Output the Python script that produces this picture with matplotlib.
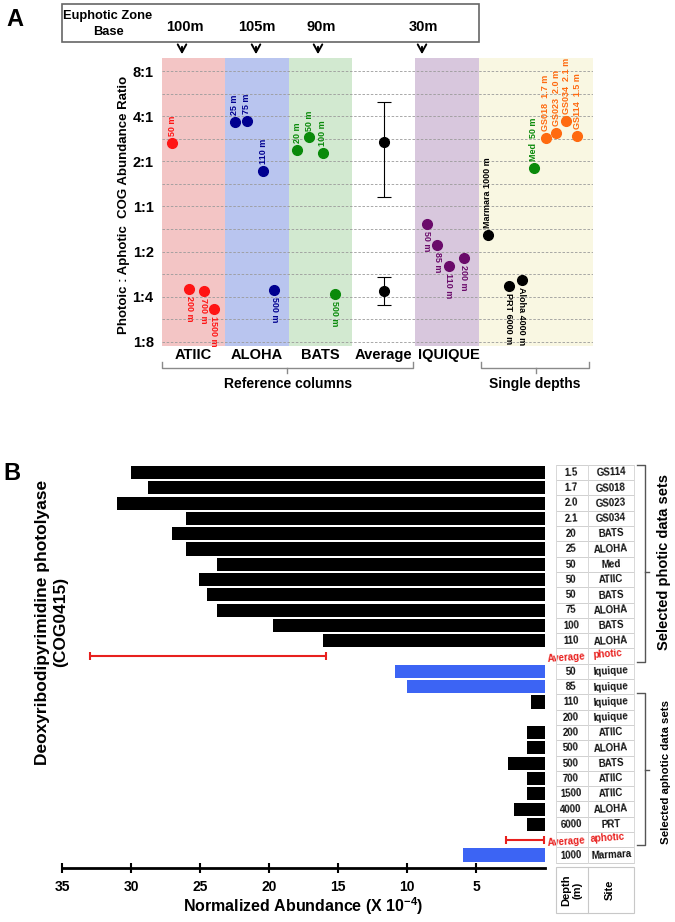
import numpy as np
import matplotlib
matplotlib.use('Agg')
import matplotlib.pyplot as plt
from matplotlib.lines import Line2D
from matplotlib.patches import Rectangle, FancyArrowPatch
import matplotlib.transforms as mtrans

plt.rcParams['font.family'] = ['Liberation Sans', 'DejaVu Sans']
plt.rcParams['font.weight'] = 'bold'
plt.rcParams['mathtext.fontset'] = 'custom'
plt.rcParams['mathtext.rm'] = 'Liberation Sans'
plt.rcParams['mathtext.bf'] = 'Liberation Sans:bold'

W, H = 675, 922
fig = plt.figure(figsize=(W / 100, H / 100), dpi=100)


def fx(px):
    return px / W


def fy(py):
    return 1 - py / H

# ---------------- Panel A data ----------------
ratio_ticks = [-3, -2, -1, 0, 1, 2, 3]
ratio_labels = ['1:8', '1:4', '1:2', '1:1', '2:1', '4:1', '8:1']

column_names = ['ATIIC', 'ALOHA', 'BATS', 'Average', 'IQUIQUE']
column_bg = ['#f3c5c5', '#b9c5ef', '#d2e9d0', '#ffffff', '#d8c7dd', '#f9f7e2']
zone_base = ['100m', '105m', '90m', '30m']

# (label, log2 ratio, slot, label side)
atiic_pts = [('50 m', 1.41, 0.16, 'up'), ('200 m', -1.84, 0.43, 'down'),
             ('700 m', -1.87, 0.66, 'down'), ('1500 m', -2.27, 0.82, 'down')]
aloha_pts = [('25 m', 1.88, 1.15, 'up'), ('75 m', 1.90, 1.34, 'up'),
             ('110 m', 0.79, 1.60, 'up'), ('500 m', -1.85, 1.77, 'down')]
bats_pts = [('20 m', 1.26, 2.14, 'up'), ('50 m', 1.53, 2.33, 'up'),
            ('100 m', 1.19, 2.54, 'up'), ('500 m', -1.94, 2.73, 'down')]
iquique_pts = [('50 m', -0.38, 4.18, 'down'), ('85 m', -0.85, 4.35, 'down'),
               ('110 m', -1.32, 4.53, 'down'), ('200 m', -1.15, 4.77, 'down')]
single_black = [('Marmara 1000 m', -0.64, 5.15, 'up'), ('PRT 6000 m', -1.76, 5.48, 'down'),
                ('Aloha 4000 m', -1.64, 5.68, 'down')]
single_med = [('Med  50 m', 0.86, 5.87, 'up')]
single_gs = [('GS018  1.7 m', 1.51, 6.06, 'up'), ('GS023  2.0 m', 1.64, 6.23, 'up'),
             ('GS034  2.1 m', 1.89, 6.39, 'up'), ('GS114  1.5 m', 1.57, 6.56, 'up')]
avg_photic = (1.43, 0.21, 2.32)
avg_aphotic = (-1.87, -2.19, -1.57)

# ---------------- Panel B data ----------------
depths = ['1.5', '1.7', '2.0', '2.1', '20', '25', '50', '50', '50', '75', '100', '110', '',
          '50', '85', '110', '200', '200', '500', '500', '700', '1500', '4000', '6000', '', '1000']
sites = ['GS114', 'GS018', 'GS023', 'GS034', 'BATS', 'ALOHA', 'Med', 'ATIIC', 'BATS', 'ALOHA',
         'BATS', 'ALOHA', '', 'Iquique', 'Iquique', 'Iquique', 'Iquique', 'ATIIC', 'ALOHA',
         'BATS', 'ATIIC', 'ATIIC', 'ALOHA', 'PRT', '', 'Marmara']
abundance = [30.0, 28.8, 31.0, 26.0, 27.0, 26.0, 23.8, 25.1, 24.5, 23.8, 19.7, 16.1, np.nan,
             10.9, 10.0, 1.0, 0.0, 1.28, 1.28, 2.7, 1.27, 1.27, 2.28, 1.27, np.nan, 5.95]
bar_kind = ['k'] * 12 + [''] + ['b', 'b', 'k', 'k'] + ['k'] * 7 + [''] + ['b']
avg_rows = {12: ('photic', 15.9, 33.0), 24: ('aphotic', 0.1, 2.8)}
x_ticks = [35, 30, 25, 20, 15, 10, 5]

# ================= Panel A =================
axA = fig.add_axes([fx(162), fy(346), (593 - 162) / W, (346 - 58) / H])
unit = 63.3
xmax = (593 - 162) / unit
axA.set_xlim(0, xmax)
axA.set_ylim((206.5 - 346) / 45.1, (206.5 - 58) / 45.1)
bounds = [0, 1, 2, 3, 4, 5, xmax]
for i in range(6):
    axA.axvspan(bounds[i], bounds[i + 1], color=column_bg[i], lw=0, zorder=0)
for v in np.arange(-3, 3.01, 0.5):
    axA.axhline(v, color='#9a9a9a', lw=0.6, ls=(0, (3, 2)), zorder=1)
axA.set_yticks(ratio_ticks)
axA.set_yticklabels(ratio_labels, fontsize=10.5, fontweight='bold')
axA.tick_params(axis='y', length=0, pad=6)
axA.set_xticks([])
for s in axA.spines.values():
    s.set_visible(False)


def plot_pts(pts, color):
    for lab, v, x, side in pts:
        axA.plot(x, v, 'o', color=color, ms=7, zorder=3)
        if side == 'up':
            axA.annotate(lab, (x, v), xytext=(0, 5), textcoords='offset points', rotation=90,
                         ha='center', va='bottom', fontsize=6.5, color=color, fontweight='bold')
        else:
            axA.annotate(lab, (x, v), xytext=(0, -5), textcoords='offset points', rotation=-90,
                         ha='center', va='top', fontsize=6.5, color=color, fontweight='bold')


plot_pts(atiic_pts, '#ff1414')
plot_pts(aloha_pts, '#000090')
plot_pts(bats_pts, '#0a8a0a')
plot_pts(iquique_pts, '#6a0a6a')
plot_pts(single_black, '#000000')
plot_pts(single_med, '#0a8a0a')
plot_pts(single_gs, '#ff6a10')
for m, lo, hi in (avg_photic, avg_aphotic):
    axA.errorbar(3.5, m, yerr=[[m - lo], [hi - m]], fmt='o', color='k', ms=7,
                 capsize=5, elinewidth=0.8, capthick=0.8, zorder=3)

# column labels
for i, name in enumerate(column_names):
    fig.text(fx(162 + (i + 0.5) * unit + (2 if i == 4 else 0)), fy(355), name, ha='center',
             va='center', fontsize=10.5, fontweight='bold')

# header box
fig.add_artist(Rectangle((fx(62), fy(42)), (479 - 62) / W, (42 - 4) / H, transform=fig.transFigure,
                         facecolor='white', edgecolor='#666666', lw=1.2))
fig.text(fx(108), fy(16), 'Euphotic Zone', ha='center', va='center', fontsize=9.3, fontweight='bold')
fig.text(fx(108), fy(32), 'Base', ha='center', va='center', fontsize=9.3, fontweight='bold')
for lab, tx, ax_x in zip(zone_base, [185, 257, 321, 423], [182, 256, 318, 422]):
    fig.text(fx(tx), fy(27), lab, ha='center', va='center', fontsize=10.5, fontweight='bold')
    fig.add_artist(FancyArrowPatch((fx(ax_x), fy(44)), (fx(ax_x), fy(57)), transform=fig.transFigure,
                                   arrowstyle='->,head_length=0.4,head_width=0.22', mutation_scale=14,
                                   lw=1.4, color='k'))

fig.text(fx(15), fy(20), 'A', ha='center', va='center', fontsize=17, fontweight='bold')
fig.text(fx(124), fy(205), 'Photoic : Aphotic  COG Abundance Ratio', rotation=90, ha='center',
         va='center', fontsize=9.5, fontweight='bold')


def hbrace(x0, x1, ytop, ybot, xm, tip):
    fig.add_artist(Line2D([fx(x0), fx(x0), fx(x1), fx(x1)], [fy(ytop), fy(ybot), fy(ybot), fy(ytop)],
                          transform=fig.transFigure, color='#8a8a8a', lw=1))
    fig.add_artist(Line2D([fx(xm), fx(xm)], [fy(ybot), fy(ybot + tip)], transform=fig.transFigure,
                          color='#8a8a8a', lw=1))


hbrace(162, 413, 362, 368, 287, 5)
hbrace(481, 589, 362, 368, 536, 5)
fig.text(fx(288), fy(384), 'Reference columns', ha='center', va='center', fontsize=10, fontweight='bold')
fig.text(fx(535), fy(384), 'Single depths', ha='center', va='center', fontsize=10, fontweight='bold')

# ================= Panel B =================
row_pitch = 15.3
row0 = 472.5
axB_top, axB_bot = 462, 868
axB = fig.add_axes([fx(62), fy(axB_bot), (545 - 62) / W, (axB_bot - axB_top) / H])
n = len(depths)
rows = np.arange(n)
axB.set_xlim(35, 0)
axB.set_ylim((axB_bot - row0) / row_pitch, (axB_top - row0) / row_pitch)
cols = {'k': '#000000', 'b': '#3c64f4', '': 'none'}
vals = np.nan_to_num(np.array(abundance))
axB.barh(rows, vals, height=0.86, color=[cols[k] for k in bar_kind], edgecolor='none', zorder=2)
for r, (_, lo, hi) in avg_rows.items():
    axB.errorbar((lo + hi) / 2, r, xerr=(hi - lo) / 2, fmt='none', ecolor='#e8201e', elinewidth=1.5,
                 capsize=3, capthick=1.5)
axB.set_xticks(x_ticks)
axB.set_xticklabels([str(t) for t in x_ticks], fontsize=10, fontweight='bold')
axB.tick_params(axis='x', direction='inout', length=7, width=1.5, pad=5)
axB.set_yticks([])
for k in ['top', 'left', 'right']:
    axB.spines[k].set_visible(False)
axB.spines['bottom'].set_linewidth(2)
axB.set_xlabel(r'Normalized Abundance (X 10$^{\mathbf{-4}}$)', fontsize=11.5, fontweight='bold',
               labelpad=1)

fig.text(fx(12), fy(473), 'B', ha='center', va='center', fontsize=17, fontweight='bold')
fig.text(fx(52), fy(622), 'Deoxyribodipyrimidine photolyase\n(COG0415)', rotation=90, ha='center',
         va='center', fontsize=12.5, fontweight='bold', linespacing=1.25, multialignment='center')

# table
blend = mtrans.blended_transform_factory(fig.transFigure, axB.transData)
tl, tm, tr = fx(556), fx(588), fx(634)
for r in range(n + 1):
    fig.add_artist(Line2D([tl, tr], [r - 0.5, r - 0.5], transform=blend, color='#d0d0d0', lw=0.7))
for xx in (tl, tm, tr):
    fig.add_artist(Line2D([xx, xx], [-0.5, n - 0.5], transform=blend, color='#d8d8d8', lw=0.7))
for r in range(n):
    if r in avg_rows:
        axB.text(fx(566), r + 0.1, 'Average', transform=blend, ha='center', va='center', fontsize=7,
                 color='#e8201e', fontweight='bold', rotation=4, clip_on=False)
        axB.text(fx(608), r - 0.15, avg_rows[r][0], transform=blend, ha='center', va='center',
                 fontsize=7, color='#e8201e', fontweight='bold', rotation=4, clip_on=False)
    else:
        axB.text(fx(571), r, depths[r], transform=blend, ha='center', va='center', fontsize=7,
                 fontweight='bold', rotation=3, clip_on=False, color='#111111')
        axB.text(fx(611), r, sites[r], transform=blend, ha='center', va='center', fontsize=7,
                 fontweight='bold', rotation=3, clip_on=False, color='#111111')
# header cell
fig.add_artist(Rectangle((fx(556), fy(913)), (634 - 556) / W, (913 - 867) / H, transform=fig.transFigure,
                         facecolor='white', edgecolor='#c8c8c8', lw=0.8))
fig.add_artist(Line2D([fx(588), fx(588)], [fy(867), fy(913)], transform=fig.transFigure,
                      color='#c8c8c8', lw=0.8))
fig.text(fx(572), fy(890), 'Depth\n(m)', rotation=90, ha='center', va='center', fontsize=8,
         fontweight='bold', multialignment='center', linespacing=1.1)
fig.text(fx(610), fy(890), 'Site', rotation=90, ha='center', va='center', fontsize=8, fontweight='bold')


def vbrace(y0, y1, xl, xr, ym, tip):
    fig.add_artist(Line2D([fx(xl), fx(xr), fx(xr), fx(xl)], [fy(y0), fy(y0), fy(y1), fy(y1)],
                          transform=fig.transFigure, color='#555555', lw=1))
    fig.add_artist(Line2D([fx(xr), fx(xr + tip)], [fy(ym), fy(ym)], transform=fig.transFigure,
                          color='#555555', lw=1))


vbrace(465, 662, 637, 645, 572, 4)
vbrace(693, 845, 637, 645, 770, 4)
fig.text(fx(664), fy(562), 'Selected photic data sets', rotation=90, ha='center', va='center',
         fontsize=10.5, fontweight='bold')
fig.text(fx(666), fy(772), 'Selected aphotic data sets', rotation=90, ha='center', va='center',
         fontsize=8.2, fontweight='bold')

fig.savefig('out.png', dpi=100)
